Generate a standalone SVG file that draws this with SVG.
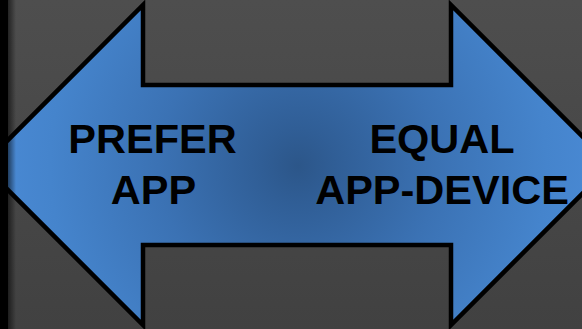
<svg xmlns="http://www.w3.org/2000/svg" width="582" height="329" viewBox="0 0 582 329">
  <defs>
    <linearGradient id="bg" x1="0" y1="0" x2="0" y2="1">
      <stop offset="0" stop-color="#4e4e4e"/>
      <stop offset="1" stop-color="#414141"/>
    </linearGradient>
    <radialGradient id="arrowFill" gradientUnits="userSpaceOnUse" cx="298" cy="166" r="310">
      <stop offset="0" stop-color="#2c5689"/>
      <stop offset="0.12" stop-color="#305e96"/>
      <stop offset="0.45" stop-color="#3b72b4"/>
      <stop offset="0.8" stop-color="#4584cc"/>
      <stop offset="1" stop-color="#4a8ad5"/>
    </radialGradient>
    <linearGradient id="edgeShade" x1="0" y1="0" x2="1" y2="0">
      <stop offset="0" stop-color="#000" stop-opacity="0.55"/>
      <stop offset="1" stop-color="#000" stop-opacity="0"/>
    </linearGradient>
    <style>
      .arrow { fill: url(#arrowFill); stroke: #000; stroke-width: 4.5; stroke-linejoin: miter; }
      .label { font-family: "Liberation Sans", Arial, sans-serif; font-weight: bold; font-size: 41.5px; fill: #000; text-anchor: middle; }
    </style>
  </defs>

  <!-- backdrop -->
  <rect x="0" y="0" width="582" height="329" fill="url(#bg)"/>

  <!-- double-headed arrow -->
  <g id="arrow">
    <polygon class="arrow" points="-17,165 143,5 143,85 451,85 451,5 611,165 451,325 451,245 143,245 143,325"/>
  </g>

  <!-- left side label -->
  <g id="prefer-app">
    <text class="label" x="152.5" y="153">PREFER</text>
    <text class="label" x="153.5" y="204">APP</text>
  </g>

  <!-- right side label -->
  <g id="equal-app-device">
    <text class="label" x="442" y="153">EQUAL</text>
    <text class="label" x="442" y="204">APP-DEVICE</text>
  </g>

  <!-- dark left frame edge with soft shadow -->
  <rect x="0" y="0" width="8" height="329" fill="#000"/>
  <rect x="8" y="0" width="8" height="329" fill="url(#edgeShade)"/>
</svg>
